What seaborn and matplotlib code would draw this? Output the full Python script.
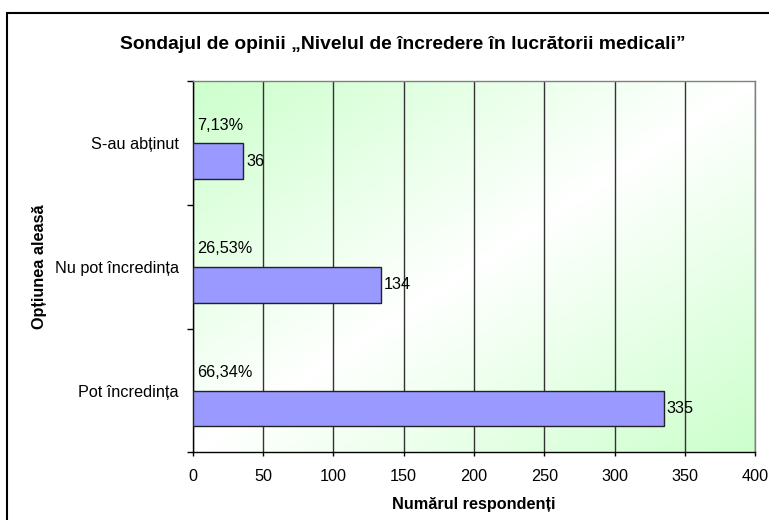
import numpy as np
import pandas as pd
import matplotlib
matplotlib.use('Agg')
import matplotlib.pyplot as plt
import seaborn as sns
from matplotlib.patches import Rectangle

sns.set_style('white')
plt.rcParams['font.family'] = ['Liberation Sans', 'DejaVu Sans']
plt.rcParams['text.color'] = 'black'
plt.rcParams['axes.labelcolor'] = 'black'
plt.rcParams['xtick.color'] = 'black'
plt.rcParams['ytick.color'] = 'black'

# data
optiuni = ['S-au abținut', 'Nu pot încredința', 'Pot încredința']
respondenti = [36, 134, 335]
procente = [7.13, 26.53, 66.34]
x_ticks = [0, 50, 100, 150, 200, 250, 300, 350, 400]

df = pd.DataFrame({
    'optiune': optiuni * 2,
    'serie': ['procent'] * 3 + ['numar'] * 3,
    'valoare': procente + respondenti,
})

FS = 11.7

fig = plt.figure(figsize=(7.69, 5.2), dpi=100)
ax = fig.add_axes([0.2506, 0.13, 0.9824 - 0.2506, 0.8437 - 0.13])

# gradient background (green corners, white diagonal)
gx = np.linspace(0, 1, 300)
gy = np.linspace(0, 1, 200)
GX, GY = np.meshgrid(gx, gy)
a = np.abs(GX + GY - 1)[..., None]
green = np.array([204, 255, 204]) / 255.0
img = (1 - a) * np.ones(3) + a * green
ax.imshow(img, extent=[0, 400, 2.5, -0.5], aspect='auto', zorder=0,
          interpolation='bilinear')

sns.barplot(data=df, y='optiune', x='valoare', hue='serie',
            hue_order=['procent', 'numar'], order=optiuni,
            palette={'procent': '#9999ff', 'numar': '#9999ff'},
            saturation=1, width=0.58, dodge=True, edgecolor='#222222',
            linewidth=1, legend=False, ax=ax, zorder=3)

# hidden percent series -> only labels
for patch, p in zip(ax.containers[0], procente):
    patch.set_visible(False)
    yc = patch.get_y() + patch.get_height() / 2
    ax.annotate(f'{p:.2f}'.replace('.', ',') + '%', xy=(0, yc),
                xytext=(3, 0), textcoords='offset points',
                ha='left', va='center', fontsize=FS, zorder=5)

ax.bar_label(ax.containers[1], labels=[str(v) for v in respondenti],
             padding=2, fontsize=FS, zorder=5)

ax.set_xlim(0, 400)
ax.set_ylim(2.5, -0.5)
ax.set_xticks(x_ticks)
ax.set_xticklabels([str(t) for t in x_ticks], fontsize=FS)
ax.set_yticks([-0.5, 0.5, 1.5, 2.5])
ax.set_yticklabels([])
ax.set_yticks([0, 1, 2], minor=True)
ax.set_yticklabels(optiuni, minor=True, fontsize=FS)
ax.tick_params(axis='y', which='minor', length=0, pad=10)
ax.tick_params(axis='y', which='major', length=4, width=1, direction='out', left=True)
ax.tick_params(axis='x', length=3, width=1, direction='out', bottom=True, pad=9)

ax.grid(axis='x', color='#333333', linewidth=1, zorder=1)
ax.grid(axis='y', visible=False)
ax.set_axisbelow(True)

for s in ['left', 'bottom']:
    ax.spines[s].set_color('black')
    ax.spines[s].set_linewidth(1)
for s in ['top', 'right']:
    ax.spines[s].set_color('#808080')
    ax.spines[s].set_linewidth(1)

ax.set_xlabel('Numărul respondenți', fontsize=FS, fontweight='bold', labelpad=9)
ax.set_ylabel('Opțiunea aleasă', fontsize=FS, fontweight='bold')
ax.yaxis.set_label_coords(-0.259, 0.5)

fig.text(0.524, 0.915, 'Sondajul de opinii „Nivelul de încredere în lucrătorii medicali”',
         ha='center', va='center', fontsize=13.9, fontweight='bold')

# outer chart frame
fig.patches.append(Rectangle((7 / 769, -0.05), 1.2, 1 - 13 / 520 + 0.05,
                             transform=fig.transFigure, fill=False,
                             edgecolor='black', linewidth=1.5, clip_on=False))

fig.savefig('out.png', dpi=100)
